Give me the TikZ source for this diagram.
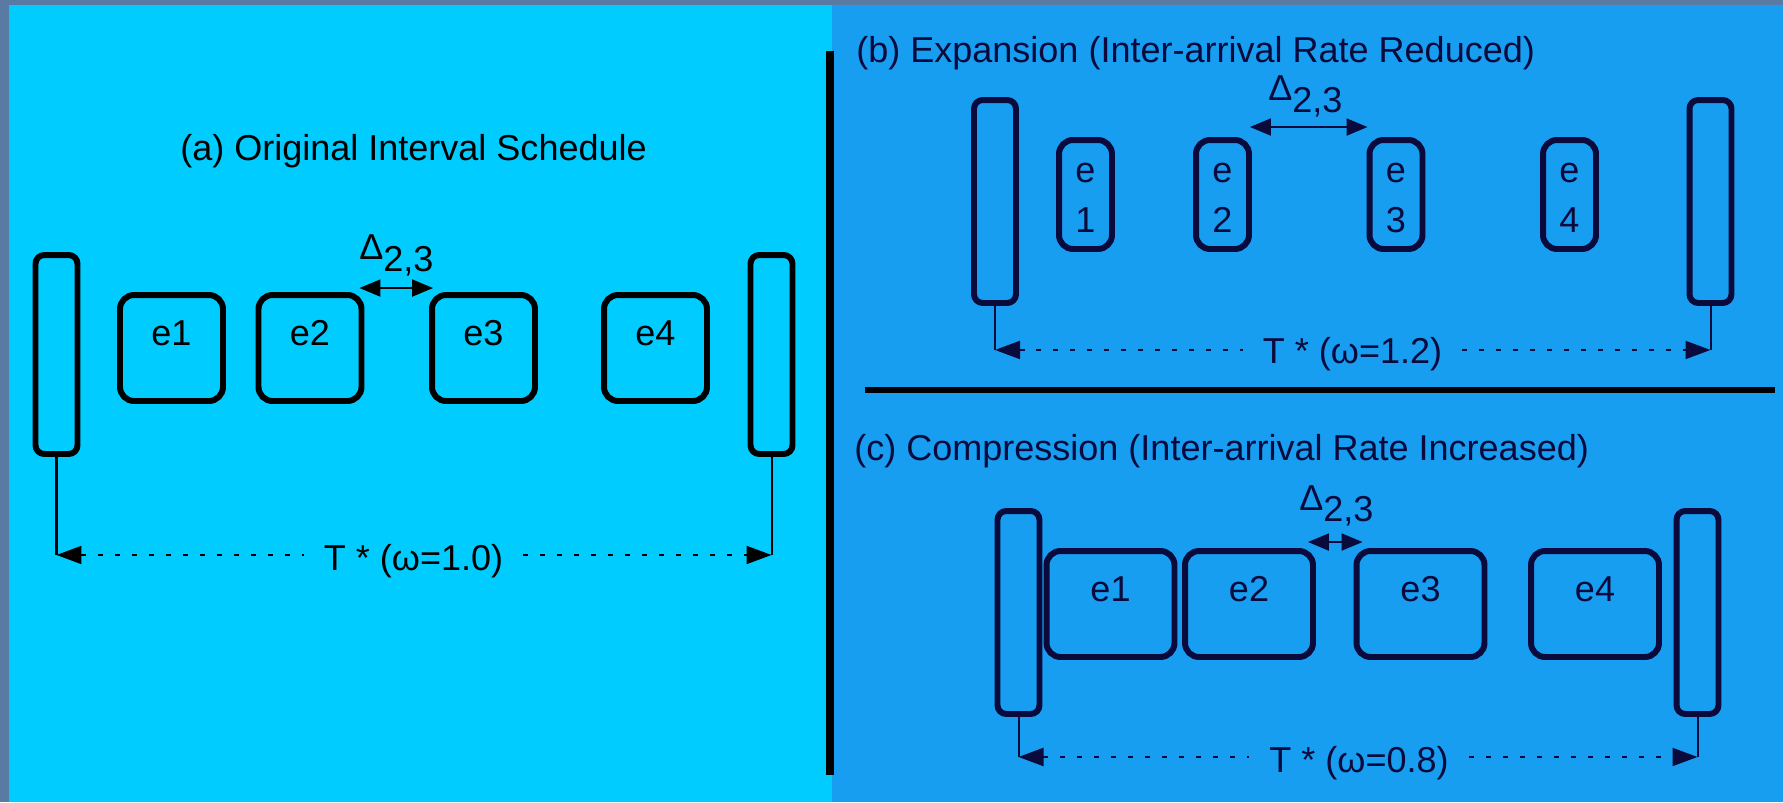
\documentclass[tikz,border=0pt]{standalone}
\usepackage{fontspec}
\setmainfont{Liberation Sans}
\usetikzlibrary{arrows.meta}
\definecolor{FrameGrey}{RGB}{88,122,163}
\definecolor{SchedCyan}{HTML}{00CCFF}
\definecolor{SchedBlue}{RGB}{24,158,240}
\definecolor{SchedNavy}{RGB}{10,10,60}
\colorlet{PanelA}{SchedCyan}
\colorlet{PanelBC}{SchedBlue}
\colorlet{InkBC}{SchedNavy}

\begin{document}
\begin{tikzpicture}[
        x=0.02cm, y=-0.02cm,
        font=\fontsize{20.5pt}{25pt}\selectfont,
        >={Triangle[length=0.5cm, width=0.36cm]},
        bar/.style={draw, rounded corners=5pt, line width=3.4pt, minimum width=0.84cm, minimum height=4.06cm, inner sep=0pt},
        job/.style={draw, rounded corners=8pt, line width=3.4pt, minimum width=2.06cm, minimum height=2.12cm, inner sep=0pt, text height=0.52cm, text depth=0.62cm},
        slimjob/.style={job, minimum width=1.06cm, minimum height=2.18cm, align=center, text height=1.52cm, text depth=0cm, font=\fontsize{20.5pt}{28.5pt}\selectfont},
        gap/.style={line width=1.14pt, {Triangle[length=0.42cm, width=0.34cm]}-{Triangle[length=0.42cm, width=0.34cm]}},
        drop/.style={line width=1.14pt},
        span/.style={line width=1.14pt, dash pattern=on 0.1cm off 0.24cm},
        period/.style={anchor=base, inner xsep=0.4cm, inner ysep=0pt},
        heading/.style={anchor=base west, inner sep=0pt},
        delta/.style={anchor=base west, inner sep=0pt}
    ]

    % Background
    \fill[FrameGrey] (0,0) rectangle (1783,802);
    \fill[PanelA] (9,5) rectangle (832,802);
    \fill[PanelBC] (832,5) rectangle (1783,802);

    % Separators
    \draw[line width=0.16cm] (830,51) -- (830,775);
    \draw[line width=0.12cm] (865,390) -- (1775,390);

    % (a) Original schedule
    \node[heading, anchor=base] (aTitle) at (413.5,160) {(a) Original Interval Schedule};
    \node[bar, minimum height=3.98cm] (aL) at (56.5,354.5) {};
    \node[bar, minimum height=3.98cm] (aR) at (771.5,354.5) {};
    \foreach \i/\x in {1/171.5, 2/310, 3/483.5, 4/655.5}
        \node[job] (a\i) at (\x,348) {e\i};
    \draw[gap] ([xshift=-0.1cm, yshift=0.08cm]a2.north east) -- ([xshift=0.08cm, yshift=0.08cm]a3.north west);
    \node[delta] (aDelta) at (359,271) {\raisebox{0.24cm}{Δ}2,3};
    \draw[drop] (aL.south) -- ++(0,98) coordinate (aLfoot);
    \draw[drop] (aR.south) -- ++(0,98) coordinate (aRfoot);
    \node[period] (aT) at (413.5,570) {T * (ω=1.0)};
    \draw[span, <-] (aLfoot) -- (aT.west |- aLfoot);
    \draw[span, ->] (aT.east |- aRfoot) -- (aRfoot);

    \begin{scope}[color=InkBC]
    % (b) Expansion
    \node[heading] (bTitle) at (856,62) {(b) Expansion (Inter-arrival Rate Reduced)};
    \node[bar] (bL) at (995,201.5) {};
    \node[bar] (bR) at (1710.5,201.5) {};
    \foreach \i/\x in {1/1085.5, 2/1222.5, 3/1396, 4/1569.5}
        \node[slimjob] (b\i) at (\x,194.5) {e\\\i};
    \draw[gap] ([xshift=-0.04cm, yshift=0.2cm]b2.north east) -- ([xshift=0.02cm, yshift=0.2cm]b3.north west);
    \node[delta] (bDelta) at (1268,112) {\raisebox{0.24cm}{Δ}2,3};
    \draw[drop] (bL.south) -- ++(0,44) coordinate (bLfoot);
    \draw[drop] (bR.south) -- ++(0,44) coordinate (bRfoot);
    \node[period] (bT) at (1352.5,363) {T * (ω=1.2)};
    \draw[span, <-] (bLfoot) -- (bT.west |- bLfoot);
    \draw[span, ->] (bT.east |- bRfoot) -- (bRfoot);

    % (c) Compression
    \node[heading] (cTitle) at (854,460) {(c) Compression (Inter-arrival Rate Increased)};
    \node[bar] (cL) at (1018.5,612.5) {};
    \node[bar] (cR) at (1697.5,612.5) {};
    \foreach \i/\x in {1/1110.5, 2/1249, 3/1420.5, 4/1595}
        \node[job, minimum width=2.56cm] (c\i) at (\x,604) {e\i};
    \draw[gap] ([xshift=-0.16cm, yshift=0.12cm]c2.north east) -- ([xshift=0.18cm, yshift=0.12cm]c3.north west);
    \node[delta] (cDelta) at (1299,521) {\raisebox{0.22cm}{Δ}2,3};
    \draw[drop] (cL.south) -- ++(0,40) coordinate (cLfoot);
    \draw[drop] (cR.south) -- ++(0,40) coordinate (cRfoot);
    \node[period] (cT) at (1359,772) {T * (ω=0.8)};
    \draw[span, <-] (cLfoot) -- (cT.west |- cLfoot);
    \draw[span, ->] (cT.east |- cRfoot) -- (cRfoot);
    \end{scope}

\end{tikzpicture}
\end{document}
